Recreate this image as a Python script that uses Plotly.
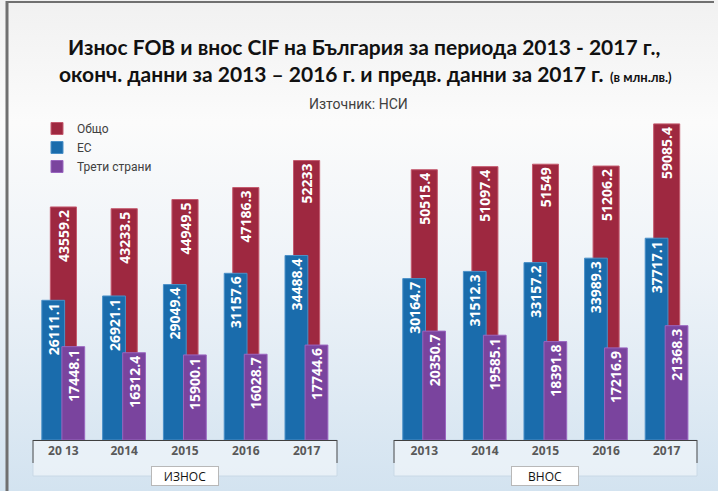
import base64
import plotly.graph_objects as go

# ---- data ----
years_export = ["20 13", "2014", "2015", "2016", "2017"]
years_import = ["2013", "2014", "2015", "2016", "2017"]

export_total = [43559.2, 43233.5, 44949.5, 47186.3, 52233]
export_eu = [26111.1, 26921.1, 29049.4, 31157.6, 34488.4]
export_third = [17448.1, 16312.4, 15900.1, 16028.7, 17744.6]

import_total = [50515.4, 51097.4, 51549, 51206.2, 59085.4]
import_eu = [30164.7, 31512.3, 33157.2, 33989.3, 37717.1]
import_third = [20350.7, 19585.1, 18391.8, 17216.9, 21368.3]

series_names = ["Общо", "ЕС", "Трети страни"]
panel_labels = ["ИЗНОС", "ВНОС"]

# ---- style ----
W, H = 718, 491
T, B = 119, 51
PLOT_H = H - T - B
colors = {"Общо": "#9e2840", "ЕС": "#1a6cac", "Трети страни": "#7a449e"}
lines = {"Общо": "#c45a6e", "ЕС": "#4a90c8", "Трети страни": "#9a66c0"}
widths = {"Общо": 0.43, "ЕС": 0.375, "Трети страни": 0.375}
offsets = {"Общо": -0.215, "ЕС": -0.355, "Трети страни": -0.025}
label_font = dict(family="Open Sans", size=14, color="white", weight="bold")


def fmt(v):
    return f"{v:g}"


fig = go.Figure()
panels = [
    ("x", "y", years_export, [export_total, export_eu, export_third], True),
    ("x2", "y2", years_import, [import_total, import_eu, import_third], False),
]
for xa, ya, cats, vals, show in panels:
    for name, v in zip(series_names, vals):
        fig.add_trace(go.Bar(
            x=cats, y=v, name=name, xaxis=xa, yaxis=ya,
            width=widths[name], offset=offsets[name],
            marker=dict(color=colors[name], line=dict(color=lines[name], width=1)),
            text=[fmt(a) for a in v], textposition="inside",
            insidetextanchor="end", textangle=-90, constraintext="none",
            textfont=label_font, showlegend=show, legendgroup=name,
            hoverinfo="x+y",
        ))

dom1 = [33 / W, 337 / W]
dom2 = [394 / W, 697 / W]
axis_common = dict(
    showline=True, linecolor="#404040", linewidth=1, ticks="",
    tickfont=dict(family="Open Sans", size=12, color="#595959", weight="bold"),
    showgrid=False, zeroline=False, fixedrange=True,
)
fig.update_layout(
    width=W, height=H,
    margin=dict(l=0, r=0, t=T, b=B, pad=0),
    barmode="overlay",
    paper_bgcolor="#ffffff", plot_bgcolor="rgba(0,0,0,0)",
    xaxis=dict(domain=dom1, anchor="y", **axis_common),
    xaxis2=dict(domain=dom2, anchor="y2", **axis_common),
    yaxis=dict(range=[0, 60000], visible=False, domain=[0, 1]),
    yaxis2=dict(range=[0, 60000], visible=False, domain=[0, 1], anchor="x2"),
    legend=dict(
        x=37 / W, y=(440 - 114) / PLOT_H, xanchor="left", yanchor="top",
        font=dict(family="Roboto", size=12, color="#404040"),
        bgcolor="rgba(0,0,0,0)", itemwidth=30, tracegroupgap=0,
    ),
    showlegend=True,
)


def py(ypx):
    return (H - B - ypx) / PLOT_H


# background gradient
svg = (
    '<svg xmlns="http://www.w3.org/2000/svg" width="718" height="491">'
    '<defs><linearGradient id="g" x1="0" y1="0" x2="0" y2="1">'
    '<stop offset="0" stop-color="#f1f1f1"/>'
    '<stop offset="0.25" stop-color="#fbfbfb"/>'
    '<stop offset="0.55" stop-color="#eef3f8"/>'
    '<stop offset="1" stop-color="#d3e3f0"/>'
    '</linearGradient></defs>'
    '<rect width="718" height="491" fill="url(#g)"/></svg>'
)
src = "data:image/svg+xml;base64," + base64.b64encode(svg.encode()).decode()
fig.add_layout_image(dict(
    source=src, xref="paper", yref="paper", x=0, y=py(0),
    sizex=1, sizey=H / PLOT_H, xanchor="left", yanchor="top",
    sizing="stretch", layer="below",
))

# frame
fig.add_shape(type="line", xref="paper", yref="paper",
              x0=7 / W, x1=7 / W, y0=py(1), y1=py(H + 5),
              line=dict(color="#707070", width=3))
fig.add_shape(type="line", xref="paper", yref="paper",
              x0=6 / W, x1=714 / W, y0=py(2), y1=py(2),
              line=dict(color="#707070", width=2))

# category boxes under axes
for d in (dom1, dom2):
    fig.add_shape(type="rect", xref="paper", yref="paper",
                  x0=d[0], x1=d[1], y0=py(476), y1=py(440),
                  fillcolor="rgba(245,248,251,0.6)",
                  line=dict(color="rgba(200,215,228,0.9)", width=1), layer="below")
    for xe in d:
        fig.add_shape(type="line", xref="paper", yref="paper",
                      x0=xe, x1=xe, y0=py(440), y1=py(463),
                      line=dict(color="#505050", width=1))

# title
fig.add_annotation(
    text="<b>Износ FOB и внос CIF на България за периода 2013 - 2017 г.,</b>",
    xref="paper", yref="paper", x=364 / W, y=py(46), showarrow=False,
    xanchor="center", yanchor="middle",
    font=dict(family="Lato", size=21, color="#111111"),
)
fig.add_annotation(
    text="<b>оконч. данни за 2013 – 2016 г. и предв. данни за 2017 г.</b>"
         "<span style='font-size:13px'><b>  (в млн.лв.)</b></span>",
    xref="paper", yref="paper", x=365 / W, y=py(73), showarrow=False,
    xanchor="center", yanchor="middle",
    font=dict(family="Lato", size=21, color="#111111"),
)
fig.add_annotation(
    text="Източник: НСИ", xref="paper", yref="paper", x=358 / W, y=py(104),
    showarrow=False, xanchor="center", yanchor="middle",
    font=dict(family="Roboto", size=14, color="#404040"),
)

# panel labels
for lab, cx in zip(panel_labels, (184.5, 545)):
    fig.add_annotation(
        text=lab, xref="paper", yref="paper", x=cx / W, y=py(476),
        showarrow=False, xanchor="center", yanchor="middle",
        width=64, height=16, bgcolor="white", bordercolor="#b8b8b8",
        borderwidth=1, borderpad=1,
        font=dict(family="Open Sans", size=12, color="#111111"),
    )

fig.write_html("out.html")
